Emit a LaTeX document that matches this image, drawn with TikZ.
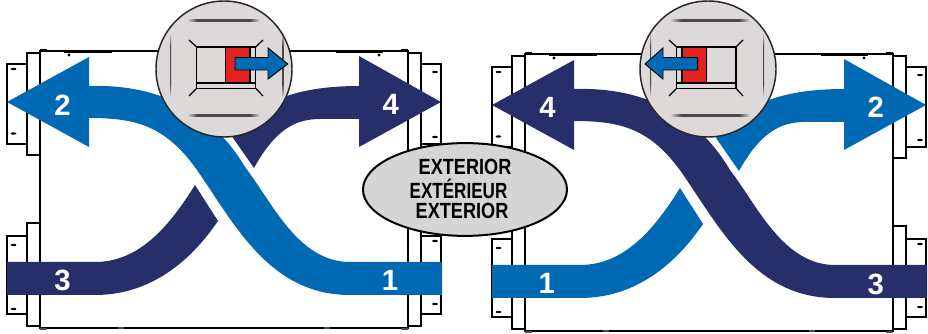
\documentclass[tikz,border=0pt]{standalone}
\usepackage{fontspec}
\usepackage{graphicx}
\setmainfont{Liberation Sans}
\definecolor{flowblue}{HTML}{0069B4}
\definecolor{flownavy}{HTML}{262F69}
\definecolor{flapred}{HTML}{E42320}
\definecolor{lensgrey}{HTML}{DCD9D8}
\definecolor{lensrim}{HTML}{F4F3F2}
\definecolor{ovalgrey}{HTML}{D5D5D5}
\definecolor{softdark}{HTML}{4A4848}
\pgfdeclareradialshading{lens}{\pgfpoint{0bp}{0bp}}{color(0bp)=(lensgrey); color(36bp)=(lensgrey); color(50bp)=(lensrim)}
\pgfdeclarehorizontalshading{softh}{100bp}{color(0bp)=(lensgrey); color(25bp)=(lensgrey); color(32bp)=(softdark); color(68bp)=(softdark); color(75bp)=(lensgrey); color(100bp)=(lensgrey)}
\pgfdeclareverticalshading{softv}{100bp}{color(0bp)=(lensgrey); color(25bp)=(lensgrey); color(35bp)=(softdark); color(65bp)=(softdark); color(75bp)=(lensgrey); color(100bp)=(lensgrey)}
\tikzset{
  frameline/.style={draw=black,line width=1.1pt,fill=white},
  lensline/.style={draw=black,line width=.9pt},
  num/.style={text=white,font=\fontsize{22}{22}\selectfont\bfseries,inner sep=0pt},
  ext/.style={text=black,font=\fontsize{16}{16}\selectfont\bfseries,inner sep=0pt},
}
% housing of one unit
\newcommand{\housing}{%
  \draw[frameline] (27,53) rectangle (40,155);
  \draw[frameline] (7,64) rectangle (27,144);
  \draw[frameline] (27,223) rectangle (40,326);
  \draw[frameline] (7,236) rectangle (27,314);
  \draw[frameline] (408,53) rectangle (421,155);
  \draw[frameline] (421,64) rectangle (441,144);
  \draw[frameline] (408,223) rectangle (421,326);
  \draw[frameline] (421,236) rectangle (441,314);
  \draw[frameline] (40,51) rectangle (408,328);
  \draw[line width=2pt] (64,52) -- (112,52);
  \draw[line width=2pt] (336,52) -- (383,52);
  \draw[line width=1.4pt] (40,50) -- (47,50);
  \draw[line width=1.4pt] (401,50) -- (408,50);
  \draw[line width=1.4pt,black!70] (40,329) -- (47,329);
  \draw[line width=1.4pt,black!70] (118,328) -- (124,328);
  \draw[line width=1.4pt,black!70] (324,328) -- (330,328);
  \draw[line width=1.4pt,black!70] (401,329) -- (408,329);
  \fill (69,55) circle[radius=1.2pt];
  \fill (379,55) circle[radius=1.2pt];
  \foreach \mx/\my in {13.5/69,13.5/133.5,13.5/245,13.5/309,435/72,435/137,435/241,435/304}
    \fill (\mx,\my) ellipse[x radius=2.2pt,y radius=.9pt];
}
% long band: head on the left, straight run on the right
\newcommand{\longband}[1]{%
  \fill[#1] (7,102) -- (89,57) -- (89,86)
    .. controls (155,84) and (210,108) .. (245,167)
    .. controls (272,202) and (298,262) .. (350,262)
    -- (442,262) -- (442,295) -- (350,295)
    .. controls (270,295) and (235,225) .. (197,170)
    .. controls (165,125) and (135,118) .. (89,118)
    -- (89,147) -- cycle;
}
% broken band: straight run on the left, head on the right
\newcommand{\lowerpiece}[1]{%
  \fill[#1] (7,262) -- (95,262)
    .. controls (140,262) and (170,225) .. (195,185)
    -- (218,221)
    .. controls (190,262) and (150,295) .. (95,295)
    -- (7,295) -- cycle;
}
\newcommand{\upperpiece}[1]{%
  \fill[#1] (231,135)
    .. controls (255,105) and (290,86) .. (359,86)
    -- (359,56) -- (441,102) -- (359,147) -- (359,119) -- (320,119)
    .. controls (295,119) and (275,130) .. (254,168) -- cycle;
}
% round lens: centre x, left/right soft line, top line ends
\newcommand{\lens}[5]{%
  \shade[shading=lens] (#1,69) circle[radius=51pt];
  \shade[shading=softh] (#4,20) rectangle (#5,21.2);
  \shade[shading=softh] (#4,115) rectangle (#5,116.2);
  \shade[shading=softv] (#2,33) rectangle (#2+1.2,97);
  \shade[shading=softv] (#3,33) rectangle (#3+1.2,97);
  \draw[line width=1.1pt,black!85] (#1,69) circle[radius=51pt];
}
\begin{document}
\begin{tikzpicture}[x=.75pt,y=-.75pt]
\useasboundingbox (0,0) rectangle (928,334);
\fill[white] (0,0) rectangle (928,334);

% left unit
\housing
\longband{flowblue}
\lowerpiece{flownavy}
\upperpiece{flownavy}

% right unit
\begin{scope}[shift={(485,3)}]
\housing
\longband{flownavy}
\lowerpiece{flowblue}
\upperpiece{flowblue}
\end{scope}

% left lens
\lens{224}{170}{282.5}{187}{260}
\draw[lensline] (196.7,47) rectangle (255.7,88.3);
\draw[lensline] (196.7,83) -- (255.7,83);
\draw[lensline] (196.7,47) -- (189,40);
\draw[lensline] (255.7,47) -- (263,40);
\draw[lensline] (196.7,88.3) -- (189,96);
\draw[lensline] (255.7,88.3) -- (263,96);
\draw[lensline,fill=flapred] (225.7,47) rectangle (250,83);
\draw[draw=black,line width=.7pt,fill=flowblue,line join=miter]
  (235,57.5) -- (268,57.5) -- (268,48) -- (287.7,64) -- (268,79) -- (268,70) -- (235,70) -- cycle;

% right lens
\lens{708}{650}{763}{670}{750}
\draw[lensline] (676.7,47) rectangle (736,88.3);
\draw[lensline] (676.7,83) -- (736,83);
\draw[lensline] (676.7,47) -- (669,40);
\draw[lensline] (736,47) -- (743,40);
\draw[lensline] (676.7,88.3) -- (669,96);
\draw[lensline] (736,88.3) -- (743,96);
\draw[lensline,fill=flapred] (682,47) rectangle (706.7,83);
\draw[draw=black,line width=.7pt,fill=flowblue,line join=miter]
  (697.7,57.5) -- (663,57.5) -- (663,48) -- (645,64) -- (663,79) -- (663,70) -- (697.7,70) -- cycle;

% numbers
\node[num] (n2l) at (62.5,105) {2};
\node[num] (n4l) at (390.7,104.7) {4};
\node[num] (n3l) at (62.5,280.7) {3};
\node[num] (n1l) at (390,280) {1};
\node[num] (n4r) at (547.5,107.7) {4};
\node[num] (n2r) at (875.7,107.7) {2};
\node[num] (n1r) at (546.7,283) {1};
\node[num] (n3r) at (875.7,284) {3};

% oval
\draw[draw=black,line width=1.5pt,fill=ovalgrey] (465,189.5) ellipse[x radius=76.5pt,y radius=34.8pt];
\node[ext] (exta) at (465,167) {\scalebox{.85}[1.03]{EXTERIOR}};
\node[ext] (extb) at (458.5,189) {\scalebox{.8}[1.03]{EXTÉRIEUR}};
\node[ext] (extc) at (462,211) {\scalebox{.85}[1.03]{EXTERIOR}};
\end{tikzpicture}
\end{document}
